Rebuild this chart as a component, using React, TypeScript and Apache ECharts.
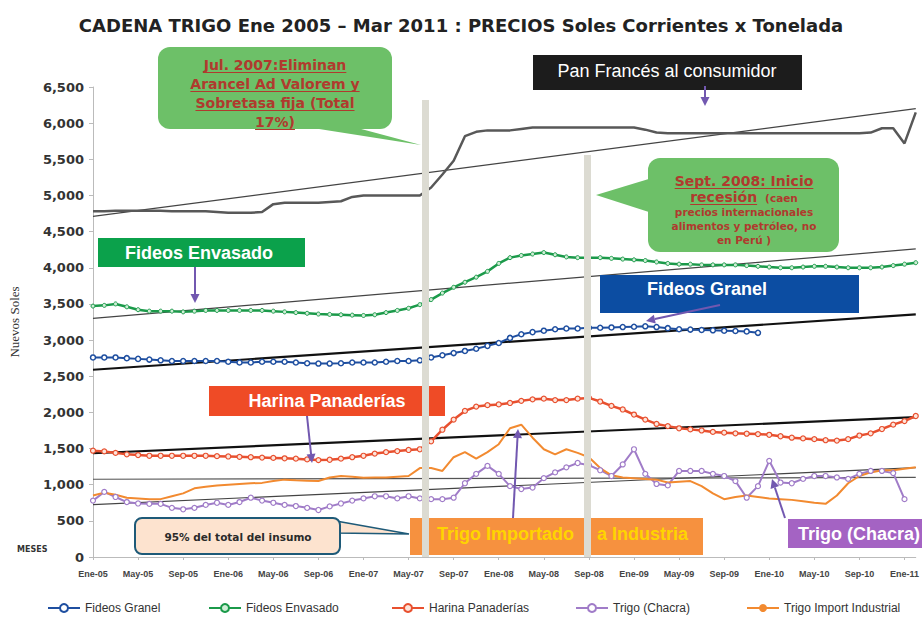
import React, { useEffect, useRef } from "react";
import * as echarts from "echarts";

const categories = [
  "Ene-05","Feb-05","Mar-05","Abr-05","May-05","Jun-05","Jul-05","Ago-05","Sep-05","Oct-05","Nov-05","Dic-05",
  "Ene-06","Feb-06","Mar-06","Abr-06","May-06","Jun-06","Jul-06","Ago-06","Sep-06","Oct-06","Nov-06","Dic-06",
  "Ene-07","Feb-07","Mar-07","Abr-07","May-07","Jun-07","Jul-07","Ago-07","Sep-07","Oct-07","Nov-07","Dic-07",
  "Ene-08","Feb-08","Mar-08","Abr-08","May-08","Jun-08","Jul-08","Ago-08","Sep-08","Oct-08","Nov-08","Dic-08",
  "Ene-09","Feb-09","Mar-09","Abr-09","May-09","Jun-09","Jul-09","Ago-09","Sep-09","Oct-09","Nov-09","Dic-09",
  "Ene-10","Feb-10","Mar-10","Abr-10","May-10","Jun-10","Jul-10","Ago-10","Sep-10","Oct-10","Nov-10","Dic-10",
  "Ene-11","Feb-11",
];

const panFrances = [
  4780,4780,4790,4790,4790,4790,4790,4780,4780,4780,4780,4770,
  4760,4760,4760,4770,4880,4900,4900,4900,4900,4910,4920,4980,
  5000,5000,5000,5000,5000,5000,5110,5290,5480,5820,5880,5900,
  5900,5900,5920,5940,5940,5940,5940,5940,5940,5940,5940,5940,
  5940,5910,5870,5860,5860,5860,5860,5860,5860,5860,5860,5860,
  5860,5860,5860,5860,5860,5860,5860,5860,5860,5870,5930,5930,
  5720,6150,
];

const fideosGranel = [
  2760,2760,2760,2750,2740,2730,2720,2710,2710,2710,2710,2710,
  2700,2690,2690,2700,2700,2700,2690,2680,2675,2675,2680,2690,
  2690,2690,2700,2710,2710,2720,2760,2790,2820,2850,2880,2920,
  2960,3030,3080,3110,3130,3150,3160,3160,3170,3170,3175,3180,
  3185,3190,3180,3165,3150,3145,3140,3135,3130,3125,3120,3100,
  null,null,null,null,null,null,null,null,null,null,null,null,
  null,null,
];

const fideosEnvasado = [
  3470,3480,3500,3460,3420,3400,3400,3400,3390,3400,3410,3410,
  3410,3410,3410,3410,3400,3390,3380,3370,3360,3355,3350,3345,
  3340,3350,3380,3410,3440,3490,3560,3650,3730,3800,3870,3950,
  4060,4140,4170,4190,4210,4180,4150,4140,4140,4140,4130,4120,
  4110,4100,4080,4060,4050,4050,4040,4040,4040,4040,4030,4020,
  4010,4000,4000,4010,4020,4020,4010,4000,4000,4000,4010,4030,
  4050,4070,
];

const harinaPanaderias = [
  1470,1460,1440,1420,1410,1400,1400,1400,1400,1400,1400,1395,
  1390,1385,1380,1375,1370,1365,1360,1350,1340,1345,1360,1380,
  1400,1430,1450,1465,1480,1490,1600,1760,1900,2020,2080,2100,
  2110,2130,2160,2180,2190,2170,2170,2190,2200,2150,2090,2040,
  1970,1900,1840,1810,1780,1765,1750,1730,1720,1710,1705,1700,
  1690,1670,1650,1640,1630,1615,1610,1630,1680,1710,1770,1830,
  1880,1950,
];

const trigoChacra = [
  780,900,830,760,740,735,735,680,660,680,720,750,
  720,760,820,780,750,720,705,680,650,700,740,780,
  810,840,840,810,840,810,800,800,820,1020,1150,1260,
  1150,980,940,960,1090,1170,1240,1300,1270,1200,1120,1280,
  1490,1150,1010,990,1190,1190,1190,1150,1120,1050,820,980,
  1330,1030,1020,1080,1120,1120,1100,1080,1150,1190,1190,1160,
  800,null,
];

const trigoImport = [
  850,890,860,820,810,800,800,840,880,950,970,990,
  1000,1010,1020,1025,1050,1070,1060,1055,1050,1100,1120,1110,
  1095,1100,1100,1110,1120,1230,1230,1190,1380,1450,1360,1450,
  1560,1780,1830,1650,1490,1420,1490,1440,1380,1230,1130,1100,
  1090,1080,1070,1030,1040,1050,980,880,800,830,850,830,
  810,800,790,770,750,735,850,1020,1120,1170,1200,1200,
  1220,1240,
];

// linear trend lines: [value at first month, value at last month]
const trendPan = [4710, 6200];
const trendEnvasado = [3300, 4260];
const trendGranel = [2590, 3355];
const trendHarina = [1435, 1935];
const trendImport = [1075, 1100];
const trendChacra = [725, 1235];

const yTicks = { min: 0, max: 6500, interval: 500 };

const legendNames = ["Fideos Granel", "Fideos Envasado", "Harina Panaderías", "Trigo (Chacra)", "Trigo Import Industrial"];
const legendLefts = [42, 203, 386, 570, 741];

const TITLE = "CADENA TRIGO Ene 2005 – Mar 2011 : PRECIOS Soles Corrientes x Tonelada";

const BLUE = "#1f4fa0";
const GREEN = "#1b9a4a";
const RED = "#e8502f";
const PURPLE = "#a07cc8";
const ORANGE = "#f28a30";
const ARROW = "#7258b0";
const CALLOUT_GREEN = "#6dc068";
const CALLOUT_TEXT = "#b03a2e";
const DV = '"DejaVu Sans", Verdana, sans-serif';
const LS = '"Liberation Sans", Arial, sans-serif';

function measure(text: string, font: string): number {
  const ctx = document.createElement("canvas").getContext("2d");
  if (!ctx) return text.length * 8;
  ctx.font = font;
  return ctx.measureText(text).width;
}

function arrow(x1: number, y1: number, x2: number, y2: number): any[] {
  const ang = Math.atan2(y2 - y1, x2 - x1);
  const L = 9, Wd = 4.5;
  const bx = x2 - L * Math.cos(ang), by = y2 - L * Math.sin(ang);
  const px = -Math.sin(ang) * Wd, py = Math.cos(ang) * Wd;
  return [
    { type: "line", z: 110, shape: { x1, y1, x2: bx, y2: by }, style: { stroke: ARROW, lineWidth: 2 } },
    { type: "polygon", z: 110, shape: { points: [[x2, y2], [bx + px, by + py], [bx - px, by - py]] }, style: { fill: ARROW } },
  ];
}

function centeredText(text: string, x: number, y: number, font: string, fill: string, underline = false, z = 102): any[] {
  const els: any[] = [
    { type: "text", z, x, y, style: { text, font, fill, align: "center", verticalAlign: "middle" } },
  ];
  if (underline) {
    const w = measure(text, font);
    els.push({ type: "line", z, shape: { x1: x - w / 2, y1: y + 7.5, x2: x + w / 2, y2: y + 7.5 }, style: { stroke: fill, lineWidth: 1.2 } });
  }
  return els;
}

function leftText(text: string, x: number, y: number, font: string, fill: string, underline = false, z = 102): any[] {
  const els: any[] = [
    { type: "text", z, x, y, style: { text, font, fill, align: "left", verticalAlign: "middle" } },
  ];
  if (underline) {
    const w = measure(text, font);
    els.push({ type: "line", z, shape: { x1: x, y1: y + 7.5, x2: x + w, y2: y + 7.5 }, style: { stroke: fill, lineWidth: 1.2 } });
  }
  return els;
}

function buildGraphics(): any[] {
  const g: any[] = [];
  const fBig = `bold 14px ${DV}`;
  const fSmall = `bold 10.5px ${DV}`;
  const fBox = `bold 18px ${LS}`;

  // Callout 1 (Jul. 2007)
  g.push({ type: "polygon", z: 100, shape: { points: [[300, 126], [350, 126], [421, 145]] }, style: { fill: CALLOUT_GREEN } });
  g.push({ type: "rect", z: 100, shape: { x: 158, y: 47, width: 234, height: 82, r: 12 }, style: { fill: CALLOUT_GREEN } });
  g.push(...centeredText("Jul. 2007:Eliminan", 275, 65, fBig, CALLOUT_TEXT, true));
  g.push(...centeredText("Arancel Ad Valorem y", 275, 84, fBig, CALLOUT_TEXT, true));
  g.push(...centeredText("Sobretasa fija (Total", 275, 103, fBig, CALLOUT_TEXT, true));
  g.push(...centeredText("17%)", 275, 122, fBig, CALLOUT_TEXT, true));

  // Callout 2 (Sept. 2008)
  g.push({ type: "polygon", z: 100, shape: { points: [[652, 178], [652, 213], [596, 195]] }, style: { fill: CALLOUT_GREEN } });
  g.push({ type: "rect", z: 100, shape: { x: 648, y: 158, width: 191, height: 94, r: 12 }, style: { fill: CALLOUT_GREEN } });
  g.push(...centeredText("Sept. 2008: Inicio", 744, 181, fBig, CALLOUT_TEXT, true));
  const recW = measure("recesión", fBig);
  const caenW = measure("(caen", fSmall);
  const recX = 744 - (recW + 8 + caenW) / 2;
  g.push(...leftText("recesión", recX, 197, fBig, CALLOUT_TEXT, true));
  g.push(...leftText("(caen", recX + recW + 8, 198, fSmall, CALLOUT_TEXT));
  g.push(...centeredText("precios internacionales", 744, 212, fSmall, CALLOUT_TEXT));
  g.push(...centeredText("alimentos y petróleo, no", 744, 226, fSmall, CALLOUT_TEXT));
  g.push(...centeredText("en Perú )", 744, 240, fSmall, CALLOUT_TEXT));

  // Pan Francés label
  g.push({ type: "rect", z: 100, shape: { x: 533, y: 55, width: 269, height: 35 }, style: { fill: "#1c1c1c" } });
  g.push(...centeredText("Pan Francés al consumidor", 667, 71, `18px ${LS}`, "#ffffff"));
  g.push(...arrow(705, 86, 705, 106));

  // Fideos Envasado label
  g.push({ type: "rect", z: 100, shape: { x: 98, y: 238, width: 207, height: 29 }, style: { fill: "#0ba14b" } });
  g.push(...centeredText("Fideos Envasado", 199, 253, fBox, "#ffffff"));
  g.push(...arrow(195, 267, 195, 303));

  // Fideos Granel label
  g.push({ type: "rect", z: 100, shape: { x: 600, y: 275, width: 259, height: 38 }, style: { fill: "#0c4da2" } });
  g.push(...centeredText("Fideos Granel", 707, 289, fBox, "#ffffff"));
  g.push(...arrow(720, 305, 646, 321));

  // Harina Panaderías label
  g.push({ type: "rect", z: 100, shape: { x: 209, y: 386, width: 236, height: 30 }, style: { fill: "#ef4b26" } });
  g.push(...centeredText("Harina Panaderías", 327, 401, fBox, "#ffffff"));
  g.push(...arrow(307, 416, 312, 463));

  // 95% callout
  g.push({ type: "polygon", z: 100, shape: { points: [[336, 521], [409, 534], [336, 533]] }, style: { fill: "#fde3cf", stroke: "#1e5a78", lineWidth: 1.5 } });
  g.push({ type: "rect", z: 101, shape: { x: 135, y: 518, width: 205, height: 36, r: 7 }, style: { fill: "#fde3cf", stroke: "#1e5a78", lineWidth: 2 } });
  g.push(...centeredText("95% del total del insumo", 238, 537, fSmall, "#2a2a2a", false, 103));

  // Trigo Importado label
  g.push({ type: "rect", z: 100, shape: { x: 410, y: 518, width: 293, height: 37 }, style: { fill: "#f6913f" } });
  g.push(...leftText("Trigo Importado", 437, 534, fBox, "#ffd400"));
  g.push(...leftText("a Industria", 597, 534, fBox, "#ffd400"));
  g.push(...arrow(513, 518, 518, 429));

  // Trigo (Chacra) label
  g.push({ type: "rect", z: 100, shape: { x: 788, y: 519, width: 134, height: 29 }, style: { fill: "#a463c3" } });
  g.push(...leftText("Trigo (Chacra)", 798, 534, fBox, "#ffffff"));
  g.push(...arrow(785, 518, 772, 479));

  // vertical event bars
  g.push({ type: "rect", z: 105, shape: { x: 422, y: 100, width: 7, height: 457 }, style: { fill: "#dcdbd2" } });
  g.push({ type: "rect", z: 105, shape: { x: 584, y: 155, width: 7, height: 402 }, style: { fill: "#dcdbd2" } });

  // axis texts
  g.push({ type: "text", z: 102, x: 17, y: 549, style: { text: "MESES", font: `bold 8px ${DV}`, fill: "#333", align: "left", verticalAlign: "middle" } });
  g.push({ type: "text", z: 102, x: 14, y: 322, rotation: Math.PI / 2, style: { text: "Nuevos Soles", font: '13px "Liberation Serif", "Times New Roman", serif', fill: "#333", align: "center", verticalAlign: "middle" } });
  return g;
}

function trend(name: string, v: number[], width: number, color: string): any {
  return {
    name, type: "line", silent: true, symbol: "none", z: 1,
    data: [[0, v[0]], [categories.length - 1, v[1]]],
    lineStyle: { color, width },
  };
}

export default function App() {
  const ref = useRef<HTMLDivElement>(null);
  useEffect(() => {
    if (!ref.current) return;
    const chart = echarts.init(ref.current, undefined, { renderer: "svg" });
    const option: any = {
      animation: false,
      backgroundColor: "#ffffff",
      title: {
        text: TITLE, left: "center", top: 11,
        textStyle: { fontFamily: DV, fontWeight: "bold", fontSize: 18, color: "#222" },
      },
      grid: { left: 93, right: 1, top: 87, bottom: 63, containLabel: false },
      legend: legendNames.map((n, i) => ({
        data: [n], left: legendLefts[i], top: 597, itemWidth: 32, itemHeight: 10, itemGap: 4,
        selectedMode: false,
        textStyle: { fontSize: 12, color: "#333", fontFamily: '"Liberation Sans Narrow", "Liberation Sans", Arial, sans-serif' },
      })),
      xAxis: {
        type: "category", data: categories, boundaryGap: false,
        axisLine: { lineStyle: { color: "#bbbbbb" } },
        axisTick: { show: true, interval: 3, length: 3, lineStyle: { color: "#bbbbbb" } },
        axisLabel: { interval: 3, fontSize: 9, fontWeight: "bold", color: "#444", margin: 12, fontFamily: '"Liberation Sans Narrow", "Liberation Sans", Arial, sans-serif' },
        splitLine: { show: false },
      },
      yAxis: {
        type: "value", min: yTicks.min, max: yTicks.max, interval: yTicks.interval,
        axisLine: { show: true, lineStyle: { color: "#bbbbbb" } },
        axisTick: { show: true, length: 4, lineStyle: { color: "#bbbbbb" } },
        axisLabel: { fontSize: 13, fontWeight: "bold", color: "#333", fontFamily: DV, margin: 9,
          formatter: (v: number) => v.toLocaleString("en-US") },
        splitLine: { show: false },
      },
      series: [
        trend("tendencia Pan", trendPan, 1.2, "#444"),
        trend("tendencia Envasado", trendEnvasado, 1.2, "#444"),
        trend("tendencia Granel", trendGranel, 2.2, "#111"),
        trend("tendencia Harina", trendHarina, 2.2, "#111"),
        trend("tendencia Import", trendImport, 1.2, "#555"),
        trend("tendencia Chacra", trendChacra, 1.2, "#444"),
        {
          name: "Pan Francés", type: "line", data: panFrances, symbol: "none", z: 3,
          lineStyle: { color: "#585858", width: 2.5 }, itemStyle: { color: "#585858" },
        },
        {
          name: "Fideos Granel", type: "line", data: fideosGranel, symbol: "circle", symbolSize: 5, z: 3,
          lineStyle: { color: BLUE, width: 2 }, itemStyle: { color: "#ffffff", borderColor: BLUE, borderWidth: 1.5 },
        },
        {
          name: "Fideos Envasado", type: "line", data: fideosEnvasado, symbol: "circle", symbolSize: 4, z: 3,
          lineStyle: { color: GREEN, width: 2.5 }, itemStyle: { color: "#cfeed6", borderColor: GREEN, borderWidth: 1 },
        },
        {
          name: "Harina Panaderías", type: "line", data: harinaPanaderias, symbol: "circle", symbolSize: 5, z: 3,
          lineStyle: { color: RED, width: 2.5 }, itemStyle: { color: "#fde4da", borderColor: RED, borderWidth: 1.2 },
        },
        {
          name: "Trigo (Chacra)", type: "line", data: trigoChacra, symbol: "circle", symbolSize: 5, z: 3,
          lineStyle: { color: PURPLE, width: 2 }, itemStyle: { color: "#ffffff", borderColor: PURPLE, borderWidth: 1.2 },
        },
        {
          name: "Trigo Import Industrial", type: "line", data: trigoImport, symbol: "none", z: 3,
          lineStyle: { color: ORANGE, width: 2 }, itemStyle: { color: ORANGE },
        },
      ],
      graphic: buildGraphics(),
    };
    chart.setOption(option);
    return () => chart.dispose();
  }, []);
  return <div ref={ref} style={{ width: 922, height: 620, position: "absolute", left: 0, top: 0 }} />;
}
